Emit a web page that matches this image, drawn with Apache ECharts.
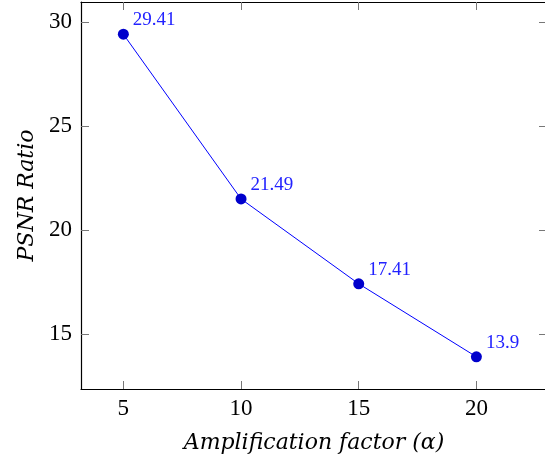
<!DOCTYPE html>
<html>
<head>
<meta charset="utf-8">
<script src="https://cdn.jsdelivr.net/npm/echarts@6/dist/echarts.min.js"></script>
<style>
html,body{margin:0;padding:0;background:#fff;}
#chart{width:545px;height:458px;}
</style>
</head>
<body>
<div id="chart"></div>
<script>
const xValues = [5, 10, 15, 20];
const psnr = [29.41, 21.49, 17.41, 13.9];
const xTicks = [5, 10, 15, 20];
const yTicks = [15, 20, 25, 30];
const xTitle = 'Amplification factor (α)';
const yTitle = 'PSNR Ratio';

const font = '"Liberation Serif", "DejaVu Serif", serif';
const titleFont = '"DejaVu Serif", "Liberation Serif", serif';
const xMin = 3.2, xMax = 23.0, yMin = 12.35, yMax = 30.96;

const tickStyle = { show: true, inside: true, length: 8, lineStyle: { color: '#777', width: 1 } };
const lineStyle = { show: true, lineStyle: { color: '#000', width: 1.2 } };

const chart = echarts.init(document.getElementById('chart'), null, { renderer: 'canvas' });
chart.setOption({
  animation: false,
  backgroundColor: '#fff',
  grid: { left: 81, top: 2, width: 466, height: 387, outerBoundsMode: 'none', containLabel: false },
  xAxis: [
    {
      type: 'value', min: xMin, max: xMax, position: 'bottom',
      axisLine: lineStyle,
      axisTick: Object.assign({}, tickStyle, { customValues: xTicks }),
      axisLabel: { customValues: xTicks, color: '#000', fontFamily: font, fontSize: 23, margin: 8 },
      splitLine: { show: false },
      name: xTitle, nameLocation: 'middle', nameGap: 43,
      nameTextStyle: { color: '#000', fontFamily: titleFont, fontStyle: 'italic', fontSize: 22 }
    },
    {
      type: 'value', min: xMin, max: xMax, position: 'top',
      axisLine: lineStyle,
      axisTick: Object.assign({}, tickStyle, { customValues: xTicks }),
      axisLabel: { show: false },
      splitLine: { show: false }
    }
  ],
  yAxis: [
    {
      type: 'value', min: yMin, max: yMax, position: 'left',
      axisLine: lineStyle,
      axisTick: Object.assign({}, tickStyle, { customValues: yTicks }),
      axisLabel: { customValues: yTicks, color: '#000', fontFamily: font, fontSize: 23, margin: 9 },
      splitLine: { show: false },
      name: yTitle, nameLocation: 'middle', nameGap: 42, nameRotate: 90,
      nameTextStyle: { color: '#000', fontFamily: titleFont, fontStyle: 'italic', fontSize: 22 }
    },
    {
      type: 'value', min: yMin, max: yMax, position: 'right',
      axisLine: lineStyle,
      axisTick: Object.assign({}, tickStyle, { customValues: yTicks }),
      axisLabel: { show: false },
      splitLine: { show: false }
    }
  ],
  series: [{
    type: 'line',
    xAxisIndex: 0, yAxisIndex: 0,
    data: xValues.map((x, i) => [x, psnr[i]]),
    symbol: 'circle', symbolSize: 11,
    lineStyle: { color: '#0000ff', width: 1 },
    itemStyle: { color: '#0000cc' },
    label: {
      show: true, position: 'right', distance: 4, offset: [0, -14],
      color: '#2222ff', fontFamily: font, fontSize: 19,
      formatter: p => String(psnr[p.dataIndex])
    }
  }]
});
</script>
</body>
</html>
